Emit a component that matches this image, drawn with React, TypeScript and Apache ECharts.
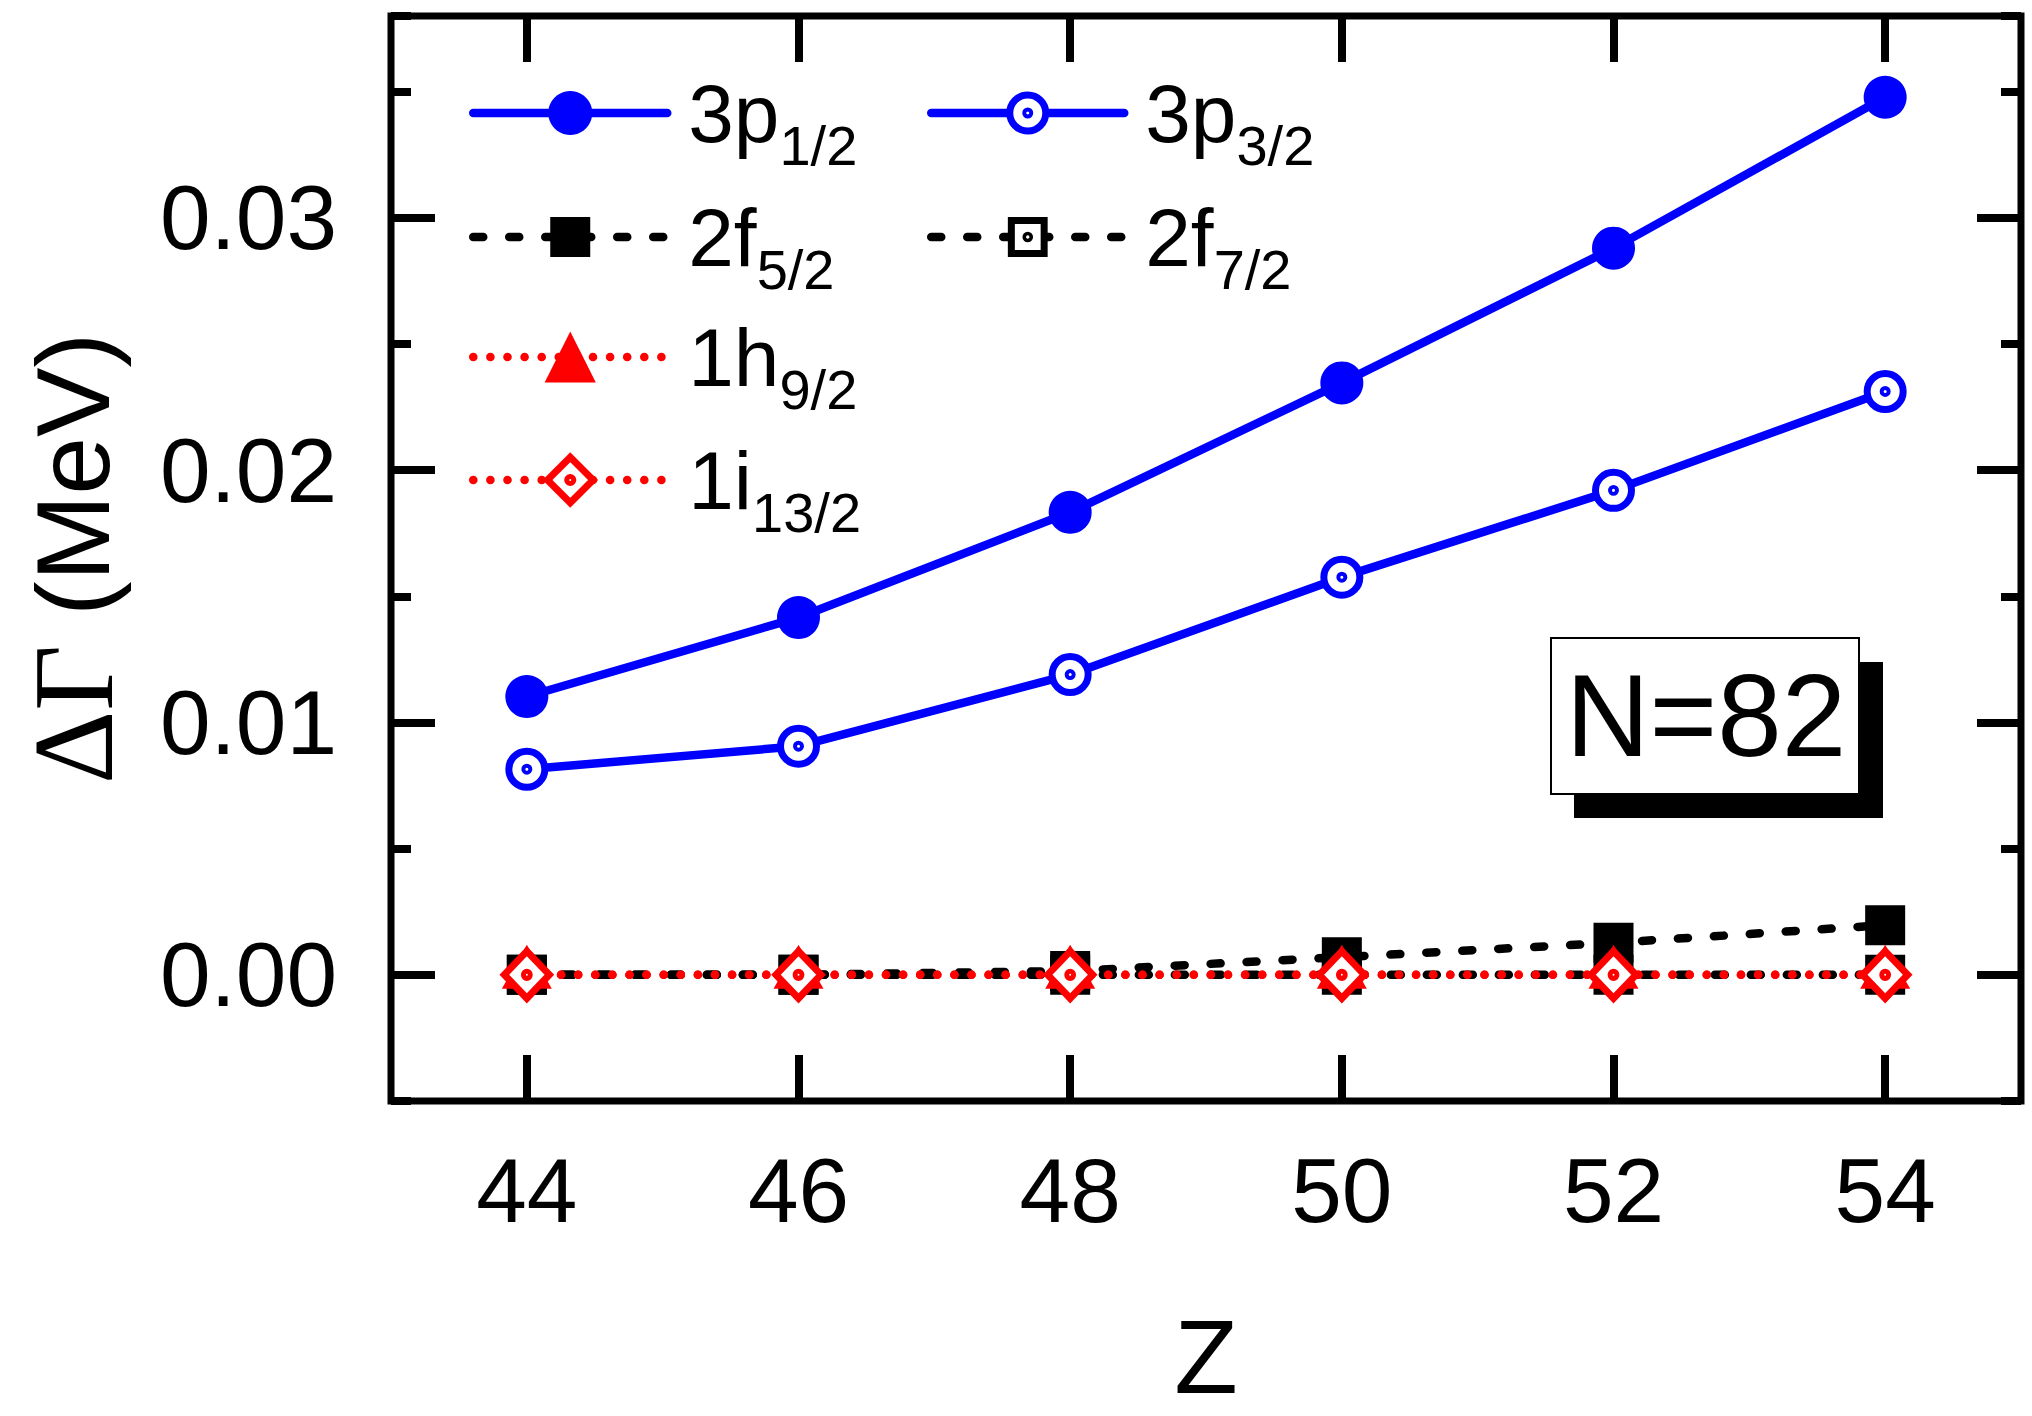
import { useEffect, useRef } from 'react';
import * as echarts from 'echarts';

// Z of the N=82 isotones
const zValues = [44, 46, 48, 50, 52, 54];
const xTickLabels = ['44', '46', '48', '50', '52', '54'];
const yTickLabels = ['0.00', '0.01', '0.02', '0.03'];

// Delta Gamma (MeV) per level
const p12 = [0.01103, 0.01416, 0.01833, 0.02346, 0.0288, 0.03478];
const p32 = [0.00815, 0.00906, 0.0119, 0.01576, 0.0192, 0.02312];
const f52 = [0, 0, 0.00015, 0.0007, 0.00127, 0.00197];
const f72 = [0, 0, 0, 0, 0, 0];
const h92 = [0, 0, 0, 0, 0, 0];
const i132 = [0, 0, 0, 0, 0, 0];

const seriesNames = ['3p1/2', '3p3/2', '2f5/2', '2f7/2', '1h9/2', '1i13/2'];
const labelMain = ['3p', '3p', '2f', '2f', '1h', '1i'];
const labelSub = ['1/2', '3/2', '5/2', '7/2', '9/2', '13/2'];

const BLUE = '#0000ff';
const RED = '#ff0000';
const BLACK = '#000000';
const SANS = 'Liberation Sans, Arial, sans-serif';
const SERIF = 'Liberation Serif, Times New Roman, serif';

const ringDot =
  'path://M0,-10A10,10,0,1,1,0,10A10,10,0,1,1,0,-10ZM0,-1.1A1.1,1.1,0,1,1,0,1.1A1.1,1.1,0,1,1,0,-1.1Z';
const squareDot =
  'path://M-10,-10L10,-10L10,10L-10,10ZM0,-1.1A1.1,1.1,0,1,1,0,1.1A1.1,1.1,0,1,1,0,-1.1Z';
const diamondDot =
  'path://M0,-10L10,0L0,10L-10,0ZM0,-1.1A1.1,1.1,0,1,1,0,1.1A1.1,1.1,0,1,1,0,-1.1Z';

const LINE_W = 8.5;
const dashed = [10, 26];
const dotted = [0.1, 17];

const toPairs = (vals: number[]) => zValues.map((z, i) => [z, vals[i]]);

export default function App() {
  const chartRef = useRef<HTMLDivElement>(null);

  useEffect(() => {
    if (!chartRef.current) return;
    const chart = echarts.init(chartRef.current, null, { renderer: 'svg' });

    const tickStyle = { color: BLACK, width: 8 };
    const yRange = { min: -0.005, max: 0.038 };

    const yLabel = (v: number) => {
      const k = Math.round(v / 0.01);
      if (Math.abs(v - k * 0.01) > 1e-9) return '';
      return yTickLabels[k] ?? '';
    };
    const xLabel = (v: number) => {
      const i = zValues.indexOf(Math.round(v));
      return i >= 0 && Math.abs(v - zValues[i]) < 1e-9 ? xTickLabels[i] : '';
    };

    // tick-only axes: ticks start at min, so the long ticks are the minor ones
    const yTicks = (position: 'left' | 'right') => ({
      type: 'value',
      position,
      ...yRange,
      interval: 0.01,
      axisLine: { show: false, onZero: false },
      axisTick: { show: true, inside: true, length: 20, lineStyle: tickStyle },
      minorTick: { show: true, splitNumber: 2, length: 44, lineStyle: tickStyle },
      axisLabel: { show: false },
      splitLine: { show: false },
    });
    const xTicks = (position: 'top' | 'bottom') => ({
      type: 'value',
      position,
      min: 43,
      max: 55,
      interval: 2,
      axisLine: { show: false, onZero: false },
      axisTick: { show: false, inside: true },
      minorTick: { show: true, splitNumber: 2, length: 46, lineStyle: tickStyle },
      axisLabel: { show: false },
      splitLine: { show: false },
    });

    const legendRich = {
      m: { fontSize: 82, lineHeight: 82, fontFamily: SANS, color: BLACK, verticalAlign: 'middle', padding: [0, 0, 0, 16] },
      s: { fontSize: 56, lineHeight: 56, fontFamily: SANS, color: BLACK, verticalAlign: 'middle', padding: [64, 0, 0, 0] },
    };
    const legendPos = [
      { left: 469, row: 113, w: 194, h: 55 },
      { left: 927, row: 113, w: 193, h: 45 },
      { left: 469, row: 237, w: 194, h: 50 },
      { left: 927, row: 237, w: 193, h: 41 },
      { left: 469, row: 357, w: 194, h: 64 },
      { left: 469, row: 480, w: 194, h: 57 },
    ];

    const seriesStyle = [
      { symbol: 'circle', size: 43, offset: [0, 0], fill: BLUE, stroke: BLUE, bw: 0, color: BLUE, type: 'solid' as any },
      { symbol: ringDot, size: 36, offset: [0, 0], fill: '#ffffff', stroke: BLUE, bw: 7, color: BLUE, type: 'solid' as any },
      { symbol: 'rect', size: 40, offset: [0, 0], fill: BLACK, stroke: BLACK, bw: 0, color: BLACK, type: dashed },
      { symbol: squareDot, size: 33, offset: [0, 0], fill: '#ffffff', stroke: BLACK, bw: 7, color: BLACK, type: dashed },
      { symbol: 'triangle', size: [50, 44], offset: [0, -8], fill: RED, stroke: RED, bw: 0, color: RED, type: dotted },
      { symbol: diamondDot, size: [45, 47], offset: [0, 0], fill: '#ffffff', stroke: RED, bw: 7, color: RED, type: dotted },
    ];
    const values = [p12, p32, f52, f72, h92, i132];

    const series = seriesNames.map((name, i) => {
      const s = seriesStyle[i];
      return {
        name,
        type: 'line',
        xAxisIndex: 0,
        yAxisIndex: 0,
        data: toPairs(values[i]),
        symbol: s.symbol,
        symbolSize: s.size,
        symbolOffset: s.offset,
        showSymbol: true,
        clip: false,
        itemStyle: { color: s.fill, borderColor: s.stroke, borderWidth: s.bw },
        lineStyle: { color: s.color, width: LINE_W, type: s.type, cap: 'round' },
        emphasis: { disabled: true },
      };
    });

    const legend = seriesNames.map((name, i) => {
      const p = legendPos[i];
      const s = seriesStyle[i];
      return {
        left: p.left,
        top: p.row - 60,
        orient: 'horizontal',
        padding: 0,
        itemWidth: p.w,
        itemHeight: p.h,
        selectedMode: false,
        data: [name],
        formatter: () => `{m|${labelMain[i]}}{s|${labelSub[i]}}`,
        textStyle: { fontFamily: SANS, fontSize: 82, color: BLACK, rich: legendRich },
        lineStyle: { color: s.color, width: LINE_W, type: s.type, cap: 'round' },
        itemStyle: { color: s.fill, borderColor: s.stroke, borderWidth: s.bw },
      };
    });

    const option: any = {
      animation: false,
      backgroundColor: '#ffffff',
      grid: {
        left: 391,
        top: 16,
        width: 1630,
        height: 1085,
        show: true,
        borderColor: BLACK,
        borderWidth: 7,
        backgroundColor: 'transparent',
        containLabel: false,
        outerBoundsMode: 'none',
      },
      legend,
      xAxis: [
        {
          type: 'value',
          position: 'bottom',
          min: 43,
          max: 55,
          interval: 1,
          name: 'Z',
          nameLocation: 'middle',
          nameGap: 204,
          nameMoveOverlap: false,
          nameTextStyle: { fontFamily: SANS, fontSize: 104, color: BLACK },
          axisLine: { show: false, onZero: false },
          axisTick: { show: false },
          axisLabel: { formatter: xLabel, fontFamily: SANS, fontSize: 91, color: BLACK, margin: 44 },
          splitLine: { show: false },
        },
        xTicks('bottom'),
        xTicks('top'),
      ],
      yAxis: [
        {
          type: 'value',
          position: 'left',
          ...yRange,
          interval: 0.005,
          name: '{g|ΔΓ} {s|(MeV)}',
          nameLocation: 'middle',
          nameGap: 263,
          nameMoveOverlap: false,
          nameTextStyle: {
            fontFamily: SANS,
            fontSize: 104,
            color: BLACK,
            rich: {
              g: { fontFamily: SERIF, fontSize: 114, lineHeight: 110, color: BLACK },
              s: { fontFamily: SANS, fontSize: 104, lineHeight: 110, color: BLACK },
            },
          },
          axisLine: { show: false, onZero: false },
          axisTick: { show: false },
          axisLabel: { formatter: yLabel, fontFamily: SANS, fontSize: 91, color: BLACK, margin: 54 },
          splitLine: { show: false },
        },
        yTicks('left'),
        yTicks('right'),
      ],
      graphic: [
        { type: 'rect', shape: { x: 1574, y: 662, width: 309, height: 156 }, style: { fill: BLACK } },
        {
          type: 'rect',
          shape: { x: 1551, y: 638, width: 308, height: 156 },
          style: { fill: '#ffffff', stroke: BLACK, lineWidth: 2 },
        },
        {
          type: 'text',
          x: 1706,
          y: 716,
          style: {
            text: 'N=82',
            fontFamily: SANS,
            fontSize: 116,
            fill: BLACK,
            align: 'center',
            verticalAlign: 'middle',
          },
        },
      ],
      series,
    };

    chart.setOption(option);
    return () => {
      chart.dispose();
    };
  }, []);

  return (
    <div
      ref={chartRef}
      style={{ position: 'fixed', left: 0, top: 0, width: 2032, height: 1416, background: '#fff' }}
    />
  );
}
